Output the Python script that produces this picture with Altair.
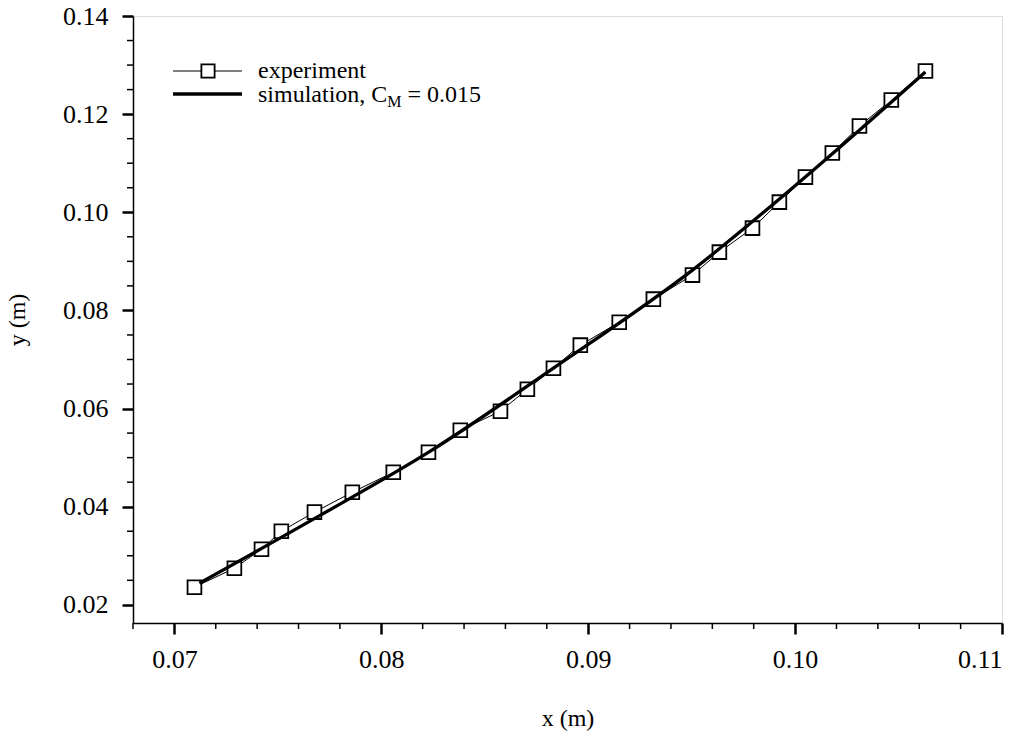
import altair as alt
import pandas as pd

# ---------------- data ----------------
exp_x = [0.07097, 0.07290, 0.07421, 0.07517, 0.07677, 0.07860, 0.08058, 0.08228,
         0.08382, 0.08576, 0.08706, 0.08832, 0.08962, 0.09150, 0.09315, 0.09504,
         0.09634, 0.09794, 0.09924, 0.10050, 0.10180, 0.10311, 0.10465, 0.10630]
exp_y = [0.02360, 0.02746, 0.03133, 0.03500, 0.03890, 0.04294, 0.04702, 0.05110,
         0.05559, 0.05946, 0.06395, 0.06823, 0.07292, 0.07760, 0.08230, 0.08720,
         0.09188, 0.09677, 0.10207, 0.10717, 0.11207, 0.11757, 0.12287, 0.12879]

sim_x = [0.07121, 0.07706, 0.08237, 0.08832, 0.09504, 0.10055, 0.10630]
sim_y = [0.02441, 0.03827, 0.05132, 0.06824, 0.08822, 0.10738, 0.12858]

x_major = [0.07, 0.08, 0.09, 0.10, 0.11]
y_major = [0.02, 0.04, 0.06, 0.08, 0.10, 0.12, 0.14]
x_minor = [0.068, 0.072, 0.074, 0.076, 0.078, 0.082, 0.084, 0.086, 0.088,
           0.092, 0.094, 0.096, 0.098, 0.102, 0.104, 0.106, 0.108]
y_minor = [0.025, 0.030, 0.035, 0.045, 0.050, 0.055, 0.065, 0.070, 0.075,
           0.085, 0.090, 0.095, 0.105, 0.110, 0.115, 0.125, 0.130, 0.135]

x_domain = [0.068, 0.11]
y_domain = [0.0163, 0.14]

legend_exp = "experiment"
legend_sim_a = "simulation, C"
legend_sim_sub = "M"
legend_sim_b = "= 0.015"
x_title = "x (m)"
y_title = "y (m)"

# ---------------- styling ----------------
FONT = "Liberation Serif"
FS_TICK = 26
FS_TITLE = 24
FS_LEG = 24
W, H = 869, 607

exp_df = pd.DataFrame({"x": exp_x, "y": exp_y})
sim_df = pd.DataFrame({"x": sim_x, "y": sim_y})
xminor_df = pd.DataFrame({"x": x_minor})
yminor_df = pd.DataFrame({"y": y_minor})
one = pd.DataFrame({"a": [0]})

xscale = alt.Scale(domain=x_domain, nice=False, zero=False)
yscale = alt.Scale(domain=y_domain, nice=False, zero=False)

xaxis = alt.Axis(values=x_major, format=".2f", grid=False, tickSize=11, tickWidth=2.5,
                 tickColor="black", domainColor="black", domainWidth=1.5,
                 labelFont=FONT, labelFontSize=FS_TICK, labelColor="black", labelPadding=12,
                 title=x_title, titleFont=FONT, titleFontSize=FS_TITLE, titleFontWeight="normal",
                 titleColor="black", titleY=95, titleBaseline="middle")
yaxis = alt.Axis(values=y_major, format=".2f", grid=False, tickSize=11, tickWidth=2.5,
                 tickColor="black", domainColor="black", domainWidth=1.5,
                 labelFont=FONT, labelFontSize=FS_TICK, labelColor="black", labelPadding=14,
                 title=y_title, titleFont=FONT, titleFontSize=FS_TITLE, titleFontWeight="normal",
                 titleColor="black", titleX=-116, titleY=H / 2, titleBaseline="middle",
                 titleAngle=270)

base_x = alt.X("x:Q", scale=xscale, axis=xaxis)
base_y = alt.Y("y:Q", scale=yscale, axis=yaxis)

exp_line = alt.Chart(exp_df).mark_line(color="black", strokeWidth=1).encode(x=base_x, y=base_y)
exp_pts = alt.Chart(exp_df).mark_point(shape="square", size=190, filled=False, fill="white",
                                       fillOpacity=1, stroke="black", strokeWidth=1.8,
                                       opacity=1).encode(x="x:Q", y="y:Q")
sim_line = alt.Chart(sim_df).mark_line(color="black", strokeWidth=3.3,
                                       interpolate="monotone").encode(x="x:Q", y="y:Q")

x_minor_ticks = alt.Chart(xminor_df).mark_rule(color="black", strokeWidth=1.5).encode(
    x="x:Q", y=alt.value(H), y2=alt.value(H + 6))
y_minor_ticks = alt.Chart(yminor_df).mark_rule(color="black", strokeWidth=1.5).encode(
    y="y:Q", x=alt.value(0), x2=alt.value(-6))

# ---------------- legend (inside the plot, top left) ----------------
LX0, LX1, LXS, LXT = 40, 109, 75, 125
LY1, LY2 = 55, 78
leg_line1 = alt.Chart(one).mark_rule(color="black", strokeWidth=1).encode(
    x=alt.value(LX0), x2=alt.value(LX1), y=alt.value(LY1))
leg_sq = alt.Chart(one).mark_point(shape="square", size=175, filled=False, fill="white",
                                   fillOpacity=1, stroke="black", strokeWidth=1.8,
                                   opacity=1).encode(x=alt.value(LXS), y=alt.value(LY1))
leg_line2 = alt.Chart(one).mark_rule(color="black", strokeWidth=3.3).encode(
    x=alt.value(LX0), x2=alt.value(LX1), y=alt.value(LY2))
txt = dict(font=FONT, fontSize=FS_LEG, color="black", align="left", baseline="middle")
leg_t1 = alt.Chart(one).mark_text(**txt).encode(
    x=alt.value(LXT), y=alt.value(LY1), text=alt.value(legend_exp))
leg_t2 = alt.Chart(one).mark_text(**txt).encode(
    x=alt.value(LXT), y=alt.value(LY2 + 1), text=alt.value(legend_sim_a))
sub_x = LXT + 5.59 * FS_LEG - 5
SUB_FS = 16
leg_t3 = alt.Chart(one).mark_text(font=FONT, fontSize=SUB_FS, color="black", align="left",
                                  baseline="middle").encode(
    x=alt.value(sub_x), y=alt.value(LY2 + 8), text=alt.value(legend_sim_sub))
leg_t4 = alt.Chart(one).mark_text(**txt).encode(
    x=alt.value(sub_x + 0.89 * SUB_FS + 6), y=alt.value(LY2 + 1), text=alt.value(legend_sim_b))

chart = alt.layer(
    exp_line, exp_pts, sim_line, x_minor_ticks, y_minor_ticks,
    leg_line1, leg_sq, leg_line2, leg_t1, leg_t2, leg_t3, leg_t4
).properties(
    width=W, height=H,
    autosize=alt.AutoSizeParams(type="none"),
    padding={"left": 133, "top": 16, "right": 27, "bottom": 117},
).configure_view(stroke="black", strokeWidth=1.5).configure(background="white")

chart.save("out.html", embed_options={"renderer": "svg", "actions": False})
